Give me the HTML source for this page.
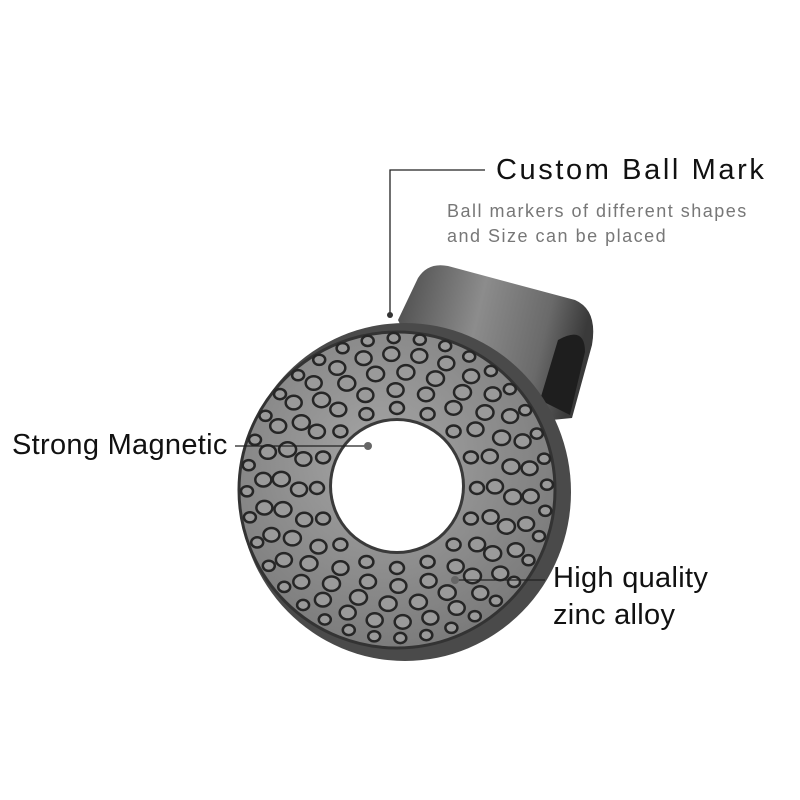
<!DOCTYPE html>
<html><head><style>
body{margin:0;width:800px;height:800px;background:#fff;overflow:hidden;position:relative;font-family:"Liberation Sans",sans-serif}
.t{position:absolute;white-space:nowrap;color:#111}
</style></head><body>
<svg id="s" width="800" height="800" style="position:absolute;left:0;top:0">
<defs>
<linearGradient id="clip" x1="0" y1="0" x2="1" y2="0.2"><stop offset="0" stop-color="#4a4a4a"/><stop offset="0.45" stop-color="#8c8c8c"/><stop offset="0.8" stop-color="#6a6a6a"/><stop offset="1" stop-color="#3a3a3a"/></linearGradient>
<radialGradient id="face" cx="0.45" cy="0.4" r="0.6"><stop offset="0" stop-color="#a6a6a6"/><stop offset="1" stop-color="#7c7c7c"/></radialGradient>
</defs>
<path d="M398 320 L418 278 Q428 262 448 266 L575 300 Q598 310 592 345 L572 418 L450 430 Z" fill="url(#clip)"/>
<path d="M558 340 Q585 325 585 352 L570 415 L540 400 Z" fill="#1e1e1e"/>
<ellipse cx="405" cy="492" rx="166" ry="169" fill="#4a4a4a"/>
<circle cx="397" cy="490" r="158" fill="url(#face)" stroke="#333" stroke-width="3"/>
<g id="d"></g>
<circle cx="397" cy="486" r="68" fill="#3a3a3a"/>
<circle cx="397" cy="486" r="65" fill="#fff"/>
<g stroke="#222" stroke-width="1.3" fill="none">
<polyline points="485,170 390,170 390,315"/>
<line x1="235" y1="446" x2="368" y2="446"/>
<line x1="455" y1="580" x2="545" y2="580"/>
</g>
<circle cx="390" cy="315" r="3" fill="#333"/>
<circle cx="368" cy="446" r="4" fill="#666"/>
<circle cx="455" cy="580" r="4" fill="#666"/>
</svg>
<script>
var g=document.getElementById('d'),h='';
var rings=[[80,16,7],[98,20,8],[116,24,8.5],[134,30,8],[150,36,6]];
rings.forEach(function(r,i){for(var k=0;k<r[1];k++){var a=2*Math.PI*k/r[1]+i*0.3;var x=397+r[0]*Math.cos(a),y=488+r[0]*Math.sin(a);
h+='<ellipse cx="'+x.toFixed(1)+'" cy="'+y.toFixed(1)+'" rx="'+r[2]+'" ry="'+(r[2]*0.85)+'" fill="#9a9a9a" stroke="#262626" stroke-width="2.5"/>';}});
g.innerHTML=h;
</script>
<div class="t" style="left:496px;top:154px;font-size:29px;letter-spacing:2.6px">Custom Ball Mark</div>
<div class="t" style="left:447px;top:201px;font-size:18px;color:#777;letter-spacing:1.5px">Ball markers of different shapes</div>
<div class="t" style="left:447px;top:226px;font-size:18px;color:#777;letter-spacing:1.5px">and Size can be placed</div>
<div class="t" style="left:12px;top:429px;font-size:29px;letter-spacing:0.3px">Strong Magnetic</div>
<div class="t" style="left:553px;top:562px;font-size:29px;letter-spacing:0.3px">High quality</div>
<div class="t" style="left:553px;top:599px;font-size:29px;letter-spacing:0.3px">zinc alloy</div>
</body></html>
